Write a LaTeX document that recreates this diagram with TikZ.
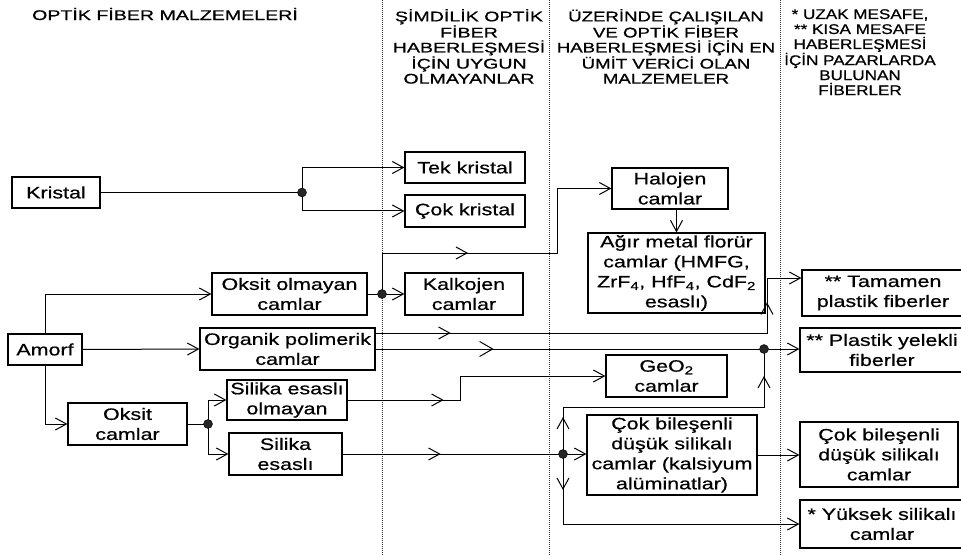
\documentclass[tikz,border=0pt]{standalone}
\usepackage{fontspec}
\setmainfont{Liberation Sans}[FakeStretch=1.3,FakeBold=0.6]
\newfontfamily\hdrfont{Liberation Sans}[FakeStretch=1.4,FakeBold=0.8]
\newfontfamily\hdrfontc{Liberation Sans}[FakeStretch=1.33,FakeBold=0.8]
\newfontfamily\hdrfontd{Liberation Sans}[FakeStretch=1.22,FakeBold=0.8]
\usetikzlibrary{arrows.meta,decorations.markings,calc}
\newcommand\bodyf{\fontsize{16.5}{20}\selectfont}
\newcommand\hdrf{\hdrfont\fontsize{14}{15}\selectfont}
\newcommand\hdrfc{\hdrfontc\fontsize{14}{15}\selectfont}
\newcommand\hdrfd{\hdrfontd\fontsize{14}{15}\selectfont}
\tikzset{
  chev/.tip={Straight Barb[length=11pt,width=12pt]},
  bigchev/.tip={Straight Barb[length=13pt,width=15pt]},
  box/.style={draw, line width=1.2pt, inner sep=0pt, align=center, font=\bodyf},
  ln/.style={line width=1pt},
  arr/.style={line width=1pt, -{chev}},
  hdr/.style={inner sep=0pt, align=center, font=\hdrf},
  divider/.style={line width=0.8pt, dash pattern=on 1pt off 1pt, black!80},
  jdot/.style={circle, fill=black!85, draw=black, inner sep=0pt, minimum size=9pt},
}
\begin{document}
\begin{tikzpicture}[x=1pt,y=-1pt]
\path[use as bounding box, clip] (0,0) rectangle (961,556);
% dividers
\draw[divider] (382,0) -- (382,556);
\draw[divider] (549,0) -- (549,556);
\draw[divider] (780,0) -- (780,556);
% headers
\node[hdr, anchor=center] (h1) at (165,14) {OPTİK FİBER MALZEMELERİ};
\node[hdr, anchor=north] (h2) at (469,9) {ŞİMDİLİK OPTİK\\FİBER\\HABERLEŞMESİ\\İÇİN UYGUN\\OLMAYANLAR};
\node[hdr, font=\hdrfc, anchor=north] (h3) at (666,9) {ÜZERİNDE ÇALIŞILAN\\VE OPTİK FİBER\\HABERLEŞMESİ İÇİN EN\\ÜMİT VERİCİ OLAN\\MALZEMELER};
\node[hdr, font=\hdrfd, anchor=north] (h4) at (860,9) {* UZAK MESAFE,\\** KISA MESAFE\\HABERLEŞMESİ\\İÇİN PAZARLARDA\\BULUNAN\\FİBERLER};
% boxes
\node[box, minimum width=88pt, minimum height=31pt] (kristal) at (56,192.5) {Kristal};
\node[box, minimum width=120pt, minimum height=31pt] (tek) at (465,167.5) {Tek kristal};
\node[box, minimum width=120pt, minimum height=32pt] (cokk) at (465,211) {Çok kristal};
\node[box, minimum width=116pt, minimum height=41pt] (hal) at (670,188.5) {Halojen\\camlar};
\node[box, minimum width=177pt, minimum height=80pt] (agir) at (676.5,273) {Ağır metal florür\\camlar (HMFG,\\ZrF\textsubscript{4}, HfF\textsubscript{4}, CdF\textsubscript{2}\\esaslı)};
\node[box, minimum width=155pt, minimum height=42pt] (oksol) at (289.5,294) {Oksit olmayan\\camlar};
\node[box, minimum width=118pt, minimum height=42pt] (kalk) at (464,294) {Kalkojen\\camlar};
\node[box, minimum width=74pt, minimum height=31pt] (amorf) at (45,349.5) {Amorf};
\node[box, minimum width=175pt, minimum height=42pt] (org) at (287.5,349) {Organik polimerik\\camlar};
\node[box, minimum width=162pt, minimum height=46pt] (tam) at (883,293) {** Tamamen\\plastik fiberler};
\node[box, minimum width=164pt, minimum height=44pt] (plas) at (882,350) {** Plastik yelekli\\fiberler};
\node[box, minimum width=158pt, minimum height=65pt] (cokr) at (879,454.5) {Çok bileşenli\\düşük silikalı\\camlar};
\node[box, minimum width=164pt, minimum height=48pt] (yuk) at (882,524) {* Yüksek silikalı\\camlar};
\node[box, minimum width=121pt, minimum height=42pt] (geo) at (666.5,376) {GeO\textsubscript{2}\\camlar};
\node[box, minimum width=170pt, minimum height=80pt] (cokm) at (672,455) {Çok bileşenli\\düşük silikalı\\camlar (kalsiyum\\alüminatlar)};
\node[box, minimum width=120pt, minimum height=40pt] (sieo) at (287,400) {Silika esaslı\\olmayan};
\node[box, minimum width=119pt, minimum height=42pt] (oksc) at (127.5,424) {Oksit\\camlar};
\node[box, minimum width=113pt, minimum height=42pt] (sie) at (285.5,454) {Silika\\esaslı};
% junctions
\coordinate (d1) at (302,192.5);
\coordinate (d2) at (382,294);
\coordinate (d3) at (764,349);
\coordinate (d4) at (208,424);
\coordinate (d5) at (563,454);
% connectors
\draw[ln] (kristal.east) -- (d1);
\draw[arr] (d1) |- (tek.west);
\draw[arr] (d1) |- (cokk.west);
\draw[arr] (amorf.north) |- (oksol.west);
\draw[arr] (amorf.east) -- (org.west);
\draw[arr] (amorf.south) |- (oksc.west);
\draw[ln] (oksol.east) -- (d2);
\draw[arr] (d2) -- (kalk.west);
\draw[arr, postaction={decorate}, decoration={markings, mark=at position 127pt with {\arrow{chev}}}]
  (d2) |- (557,253) |- (hal.west);
\draw[arr] (agir.north |- hal.south) -- (agir.north);
\draw[arr, postaction={decorate}, decoration={markings, mark=at position 75pt with {\arrow{chev}}, mark=at position 422pt with {\arrow{chev}}}]
  (org.east |- 0,333) -- (767,333) -- (767,278) -- (tam.west |- 0,278);
\draw[ln, postaction={decorate}, decoration={markings, mark=at position 118pt with {\arrow{bigchev}}}]
  (org.east) -- (d3);
\draw[arr] (d3) -- (plas.west |- d3);
\draw[ln] (oksc.east) -- (d4);
\draw[arr] (d4) |- (sieo.west);
\draw[arr] (d4) |- (sie.west);
\draw[arr, postaction={decorate}, decoration={markings, mark=at position 96pt with {\arrow{chev}}}]
  (sieo.east) -- (460,400) |- (geo.west);
\draw[ln, postaction={decorate}, decoration={markings, mark=at position 98pt with {\arrow{chev}}}]
  (sie.east) -- (d5);
\draw[arr] (d5) -- (cokm.west |- d5);
\draw[ln, postaction={decorate}, decoration={markings, mark=at position 37pt with {\arrow{chev}}, mark=at position 279pt with {\arrow{chev}}}]
  (d5) -- (563,407) -- (764,407) -- (d3);
\draw[arr, postaction={decorate}, decoration={markings, mark=at position 36pt with {\arrow{chev}}}]
  (d5) |- (yuk.west);
\draw[arr] (cokm.east) -- (cokr.west |- cokm.east);
% dots
\foreach \d in {d1,d2,d3,d4,d5} \node[jdot] at (\d) {};
\end{tikzpicture}
\end{document}
